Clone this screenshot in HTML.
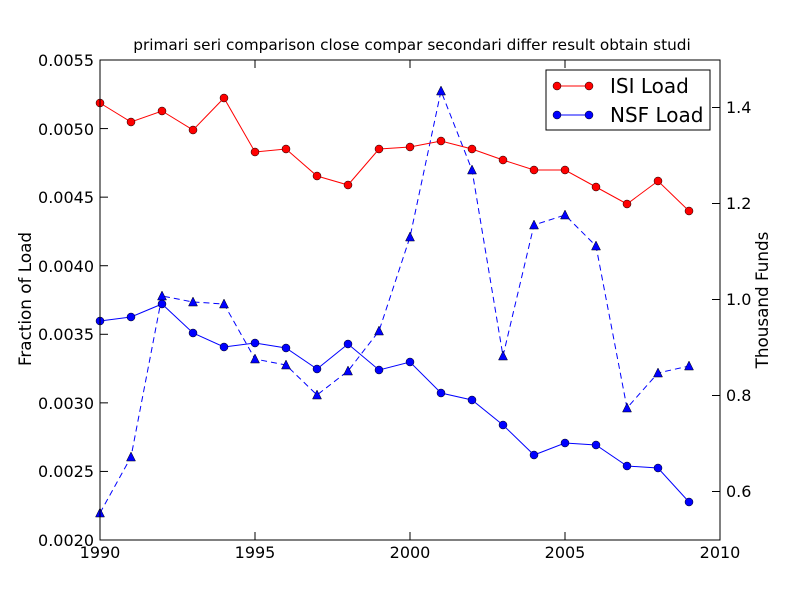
<!DOCTYPE html>
<html><head><meta charset="utf-8"><style>body{margin:0;background:#fff}svg{display:block}text{font-family:"DejaVu Sans","Liberation Sans",sans-serif}</style></head>
<body>
<svg id="s" width="800" height="600" xmlns="http://www.w3.org/2000/svg">
<rect width="800" height="600" fill="#fff"/>
<text x="412" y="50" font-size="15.3" text-anchor="middle">primari seri comparison close compar secondari differ result obtain studi</text>
<g id="plot"></g>
<rect x="100" y="60" width="620" height="480" fill="none" stroke="#000" stroke-width="1"/>
<g font-size="16">
<text x="100" y="558" text-anchor="middle">1990</text>
<text x="255" y="558" text-anchor="middle">1995</text>
<text x="410" y="558" text-anchor="middle">2000</text>
<text x="565" y="558" text-anchor="middle">2005</text>
<text x="720" y="558" text-anchor="middle">2010</text>
<text x="94" y="546" text-anchor="end">0.0020</text>
<text x="94" y="477" text-anchor="end">0.0025</text>
<text x="94" y="409" text-anchor="end">0.0030</text>
<text x="94" y="340" text-anchor="end">0.0035</text>
<text x="94" y="272" text-anchor="end">0.0040</text>
<text x="94" y="203" text-anchor="end">0.0045</text>
<text x="94" y="135" text-anchor="end">0.0050</text>
<text x="94" y="66" text-anchor="end">0.0055</text>
<text x="726" y="497" >0.6</text>
<text x="726" y="401" >0.8</text>
<text x="726" y="305" >1.0</text>
<text x="726" y="209" >1.2</text>
<text x="726" y="113" >1.4</text>
<text x="31" y="299" font-size="16.8" text-anchor="middle" transform="rotate(-90 31 299)">Fraction of Load</text>
<text x="768" y="300" font-size="16.8" text-anchor="middle" transform="rotate(-90 768 300)">Thousand Funds</text>
</g>
<rect x="546" y="70" width="164" height="60" fill="#fff" stroke="#000"/>
<line x1="557" y1="86" x2="589" y2="86" stroke="red"/>
<circle cx="557" cy="86" r="4" fill="red" stroke="#000" stroke-width="0.5"/><circle cx="589" cy="86" r="4" fill="red" stroke="#000" stroke-width="0.5"/>
<line x1="557" y1="115" x2="589" y2="115" stroke="blue"/>
<circle cx="557" cy="115" r="4" fill="blue" stroke="#000" stroke-width="0.5"/><circle cx="589" cy="115" r="4" fill="blue" stroke="#000" stroke-width="0.5"/>
<text x="610" y="93" font-size="20">ISI Load</text>
<text x="610" y="122" font-size="20">NSF Load</text>
</svg>
<script>
var ns="http://www.w3.org/2000/svg",g=document.getElementById("plot");
function el(t,a){var e=document.createElementNS(ns,t);for(var k in a)e.setAttribute(k,a[k]);g.appendChild(e);return e;}
for(var i=0;i<5;i++){var x=100+155*i;el("line",{x1:x,y1:540,x2:x,y2:532,stroke:"#000"});el("line",{x1:x,y1:60,x2:x,y2:68,stroke:"#000"});}
for(var i=0;i<8;i++){var y=540-i*68.57;el("line",{x1:100,y1:y,x2:108,y2:y,stroke:"#000"});}
[491.5,395.5,299.5,203.5,107.5].forEach(function(y){el("line",{x1:720,y1:y,x2:712,y2:y,stroke:"#000"});});
var red=[103,122,111,130,98,152,149,176,185,149,147,141,149,160,170,170,187,204,181,211];
var blue=[321,317,304,333,347,343,348,369,344,370,362,393,400,425,455,443,445,466,468,502];
var tri=[513,457,296,302,304,359,365,395,371,331,237,91,170,356,225,215,246,408,373,366];
function pts(a){return a.map(function(y,i){return (100+31*i)+","+y}).join(" ");}
el("polyline",{points:pts(tri),fill:"none",stroke:"blue","stroke-dasharray":"6,4"});
tri.forEach(function(y,i){var x=100+31*i;el("polygon",{points:(x)+","+(y-5)+" "+(x-4.5)+","+(y+4)+" "+(x+4.5)+","+(y+4),fill:"blue",stroke:"#000","stroke-width":0.5});});
el("polyline",{points:pts(red),fill:"none",stroke:"red"});
red.forEach(function(y,i){el("circle",{cx:100+31*i,cy:y,r:4,fill:"red",stroke:"#000","stroke-width":0.5});});
el("polyline",{points:pts(blue),fill:"none",stroke:"blue"});
blue.forEach(function(y,i){el("circle",{cx:100+31*i,cy:y,r:4,fill:"blue",stroke:"#000","stroke-width":0.5});});
</script>
</body></html>
